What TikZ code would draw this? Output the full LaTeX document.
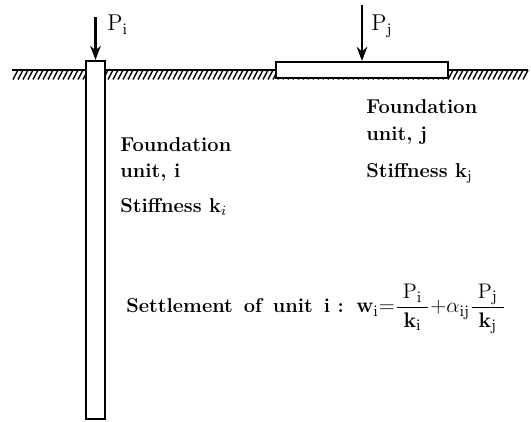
\documentclass[tikz,border=0pt]{standalone}
\usepackage{amsmath}
\usetikzlibrary{arrows.meta}
\tikzset{
    unitbox/.style={draw, line width=1.2pt, fill=white, inner sep=0pt},
    load/.style={-{Stealth[length=8pt,width=6pt]}, line width=1.4pt},
    hatch/.style={line width=0.8pt},
    lab/.style={inner sep=0pt, anchor=base west, font=\fontsize{11.4}{13}\selectfont\bfseries},
    loadlab/.style={inner sep=0pt, anchor=base west, font=\fontsize{13}{15}\selectfont}
}
\begin{document}
\begin{tikzpicture}[>=stealth]
    \useasboundingbox (0,0) rectangle (10.62,8.44);
    % ground
    \draw[line width=0.7pt] (0.24,7.04) -- (10.56,7.04);
    \foreach \x in {0.26,0.36,...,10.5} {
        \draw[hatch] (\x,6.85) -- (\x+0.1,7.04);
    }
    % foundation units
    \node[unitbox, minimum width=0.38cm, minimum height=7.16cm] (uniti) at (1.91,3.64) {};
    \node[unitbox, minimum width=3.44cm, minimum height=0.32cm] (unitj) at (7.24,7.04) {};
    \coordinate (topi) at (1.91,8.10);
    \coordinate (topj) at (7.24,8.34);
    \draw[load] (topi) -- (uniti.north);
    \draw[load] (topj) -- (unitj.north);
    \node[loadlab] (pi) at (2.14,7.82) {P$_{\rm i}$};
    \node[loadlab] (pj) at (7.42,7.82) {P$_{\rm j}$};
    % text
    \node[lab] (fi) at (2.40,5.40) {Foundation};
    \node[lab] (ui) at (2.40,4.88) {unit, i};
    \node[lab] (si) at (2.40,4.18) {Stiffness k$_i$};
    \node[lab] (fj) at (7.32,6.16) {Foundation};
    \node[lab] (uj) at (7.32,5.63) {unit, j};
    \node[lab] (sj) at (7.32,4.88) {Stiffness k$_{\rm j}$};
    \node[lab] (settle) at (2.52,2.18) {Settlement\ \,of\ \,unit\ \,i\ :};
    \node[loadlab] (eq) at (7.12,2.18)
        {$\mathbf{w}_{\rm i}{=}\dfrac{\;\rm P_i\;}{\mathbf{k}_{\rm i}}{+}\alpha_{\rm ij}\dfrac{\;\rm P_j\;}{\mathbf{k}_{\rm j}}$};
\end{tikzpicture}
\end{document}
